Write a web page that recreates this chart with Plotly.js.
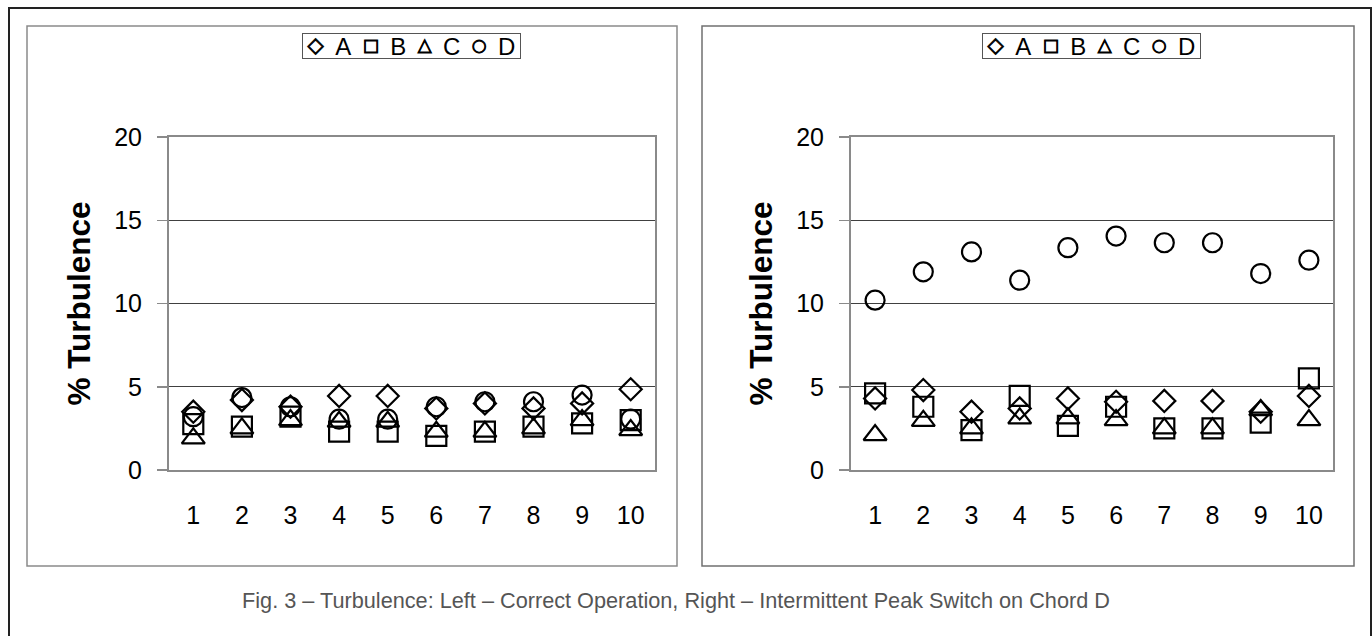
<!DOCTYPE html>
<html>
<head>
<meta charset="utf-8">
<script src="https://cdn.plot.ly/plotly-3.0.1.min.js"></script>
<style>
html,body{margin:0;padding:0;background:#fff;}
#chart{width:1372px;height:636px;}
</style>
</head>
<body>
<div id="chart"></div>
<script>
// ---- data ----
const positions = [1, 2, 3, 4, 5, 6, 7, 8, 9, 10];
const tickLabels = ['1', '2', '3', '4', '5', '6', '7', '8', '9', '10'];
const seriesNames = ['A', 'B', 'C', 'D'];
const legendSymbols = ['◇', '□', '△', '○'];

// Left – correct operation
const leftA = [3.5, 4.2, 3.8, 4.45, 4.45, 3.7, 4.0, 3.7, 4.0, 4.85];
const leftB = [2.75, 2.6, 3.2, 2.3, 2.3, 2.05, 2.3, 2.6, 2.8, 3.0];
const leftC = [1.9, 2.5, 3.0, 2.9, 2.9, 2.3, 2.3, 2.5, 3.0, 2.4];
const leftD = [3.2, 4.35, 3.8, 3.05, 3.05, 3.8, 4.1, 4.1, 4.5, 3.05];

// Right – intermittent peak switch on chord D
const rightA = [4.3, 4.8, 3.5, 3.7, 4.3, 4.1, 4.15, 4.15, 3.5, 4.45];
const rightB = [4.6, 3.8, 2.4, 4.45, 2.65, 3.8, 2.5, 2.5, 2.85, 5.5];
const rightC = [2.1, 2.95, 2.5, 3.1, 3.1, 3.0, 2.5, 2.5, 3.6, 3.0];
const rightD = [10.2, 11.9, 13.1, 11.4, 13.35, 14.05, 13.65, 13.65, 11.8, 12.6];

const yTickVals = [0, 5, 10, 15, 20];
const yTitle = '% Turbulence';
const caption = 'Fig. 3 – Turbulence: Left – Correct Operation, Right – Intermittent Peak Switch on Chord D';

// ---- styling ----
const W = 1372, H = 636;
const fx = v => v / W;
const fy = v => 1 - v / H;
const FONT = 'Liberation Sans, Arial, sans-serif';
const GAP = '\u00A0\u2009';

const symbolSizes = [21, 17, 18, 17];
const symbolShift = [3, 4, 4, 4];
const legendText = seriesNames.map((n, i) =>
  '<span style="font-family:DejaVu Sans;font-weight:bold;stroke:#000;stroke-width:0.9px;baseline-shift:' +
  symbolShift[i] + 'px;font-size:' + symbolSizes[i] + 'px">' +
  legendSymbols[i] + '</span>' + GAP + n
).join(GAP);

const markerStyles = {
  A: {symbol: 'diamond-open', size: 17},
  B: {symbol: 'square-open', size: 20},
  C: {symbol: 'triangle-up-open', size: 20},
  D: {symbol: 'circle-open', size: 19}
};

function mk(name, ys, xa, ya) {
  const s = markerStyles[name];
  return {
    type: 'scatter', mode: 'markers', name: name,
    x: positions, y: ys, xaxis: xa, yaxis: ya,
    showlegend: false, cliponaxis: false,
    marker: {symbol: s.symbol, size: s.size, color: '#000', line: {color: '#000', width: 2.2}}
  };
}

const leftSeries = [leftA, leftB, leftC, leftD];
const rightSeries = [rightA, rightB, rightC, rightD];
const traces = [];
seriesNames.forEach((n, i) => traces.push(mk(n, leftSeries[i], 'x', 'y')));
seriesNames.forEach((n, i) => traces.push(mk(n, rightSeries[i], 'x2', 'y2')));

function xAxis(domain, anchor) {
  return {
    domain: domain, anchor: anchor, range: [0.5, 10.5],
    tickvals: positions, ticktext: tickLabels, ticks: '',
    showgrid: false, zeroline: false,
    showline: true, linecolor: '#8a8a8a', linewidth: 2, mirror: true,
    tickfont: {family: FONT, size: 25, color: '#000'},
    ticklabelstandoff: 22, fixedrange: true
  };
}
function yAxis(domain, anchor) {
  return {
    domain: domain, anchor: anchor, range: [0, 20],
    tickvals: yTickVals, ticks: 'outside', ticklen: 10, tickwidth: 1.5, tickcolor: '#8a8a8a',
    showgrid: true, gridcolor: '#404040', gridwidth: 1, zeroline: false,
    showline: true, linecolor: '#8a8a8a', linewidth: 2, mirror: true,
    tickfont: {family: FONT, size: 25, color: '#000'},
    ticklabelstandoff: 10,
    title: {text: yTitle, font: {family: FONT, size: 31.5, color: '#000', weight: 'bold'}, standoff: 14},
    fixedrange: true
  };
}

const yDom = [fy(470), fy(137)];
const legendAnn = cx => ({
  xref: 'paper', yref: 'paper', x: fx(cx), y: fy(45.5), xanchor: 'center', yanchor: 'middle',
  text: legendText, showarrow: false, font: {family: FONT, size: 24, color: '#000'},
  bordercolor: '#555', borderwidth: 1, borderpad: 0, bgcolor: '#fff', width: 217, height: 24, align: 'center'
});

const layout = {
  width: W, height: H,
  margin: {l: 0, r: 0, t: 0, b: 0},
  paper_bgcolor: '#fff', plot_bgcolor: '#fff',
  font: {family: FONT, color: '#000'},
  xaxis: xAxis([fx(169), fx(655)], 'y'),
  yaxis: yAxis(yDom, 'x'),
  xaxis2: xAxis([fx(851), fx(1333)], 'y2'),
  yaxis2: yAxis(yDom, 'x2'),
  shapes: [
    {type: 'rect', xref: 'paper', yref: 'paper', x0: fx(9), x1: fx(1371), y0: fy(660), y1: fy(8),
     line: {color: '#222', width: 2}, layer: 'below'},
    {type: 'rect', xref: 'paper', yref: 'paper', x0: fx(27), x1: fx(677), y0: fy(566), y1: fy(26),
     line: {color: '#8a8a8a', width: 1.5}, layer: 'below'},
    {type: 'rect', xref: 'paper', yref: 'paper', x0: fx(702), x1: fx(1354), y0: fy(566), y1: fy(26),
     line: {color: '#707070', width: 1.5}, layer: 'below'}
  ],
  annotations: [
    legendAnn(411.5),
    legendAnn(1091.5),
    {xref: 'paper', yref: 'paper', x: fx(675.5), y: fy(600), xanchor: 'center', yanchor: 'middle',
     text: caption, showarrow: false, font: {family: FONT, size: 21.7, color: '#555'}}
  ]
};

Plotly.newPlot('chart', traces, layout, {displayModeBar: false, staticPlot: true});
</script>
</body>
</html>
